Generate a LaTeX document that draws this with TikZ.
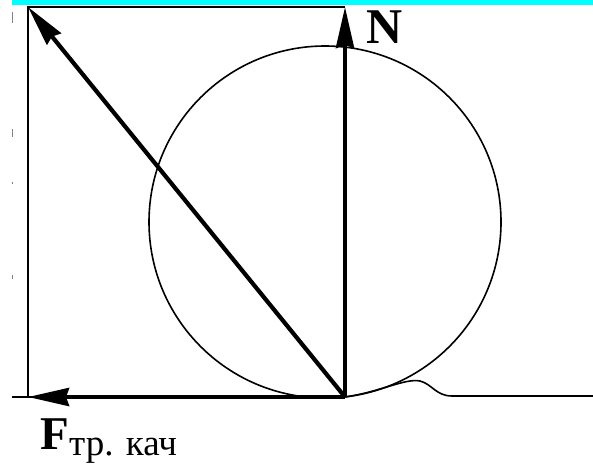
\documentclass[tikz,border=0pt]{standalone}
\usepackage{fontspec}
\setmainfont{Liberation Serif}
\usetikzlibrary{arrows.meta}
\definecolor{barcyan}{RGB}{0,255,255}
\tikzset{
  thinline/.style={line width=1.6pt},
  force/.style={line width=4.2pt, -{Stealth[length=41pt,width=18pt,inset=3pt]}}
}
\begin{document}
\begin{tikzpicture}[x=1pt,y=-1pt]
	\useasboundingbox (0,0) rectangle (593,471);
	\fill[barcyan] (12,0) rectangle (593,5);
	% left edge marks
	\draw[gray,line width=1.5pt] (12.5,12) -- (12.5,23);
	\draw[gray,line width=1.5pt] (12.5,129) -- (12.5,137);
	\draw[gray,line width=1.2pt] (12.5,182) -- (12.5,184);
	\draw[gray,line width=1.5pt] (12.5,275) -- (12.5,279);
	\coordinate (C) at (345,397);
	\coordinate (A) at (28,7);
	\coordinate (T) at (345,7);
	\coordinate (L) at (28,397);
	\node[circle,draw,thinline,minimum size=352pt,inner sep=0pt] (wheel) at (325,222) {};
	\draw[thinline] (L) -- (A) -- (T);
	\draw[thinline] (12,397) -- (C);
	\draw[thinline] (C) .. controls (380,392) and (405,378) .. (420,381)
		.. controls (432,384) and (436,396) .. (452,396) -- (593,396);
	\draw[force] (C) -- (T);
	\draw[force] (C) -- (A);
	\draw[force] (C) -- (L);
	\node[anchor=base west,inner sep=0pt,font=\fontsize{50}{52}\selectfont\bfseries] (nN) at (366,43) {N};
	\node[anchor=base west,inner sep=0pt,font=\fontsize{47}{50}\selectfont\bfseries] (nF) at (40,449) {F};
	\node[anchor=base west,inner sep=0pt,font=\fontsize{37}{40}\selectfont] (nsub) at (69,455) {тр. кач};
\end{tikzpicture}
\end{document}
